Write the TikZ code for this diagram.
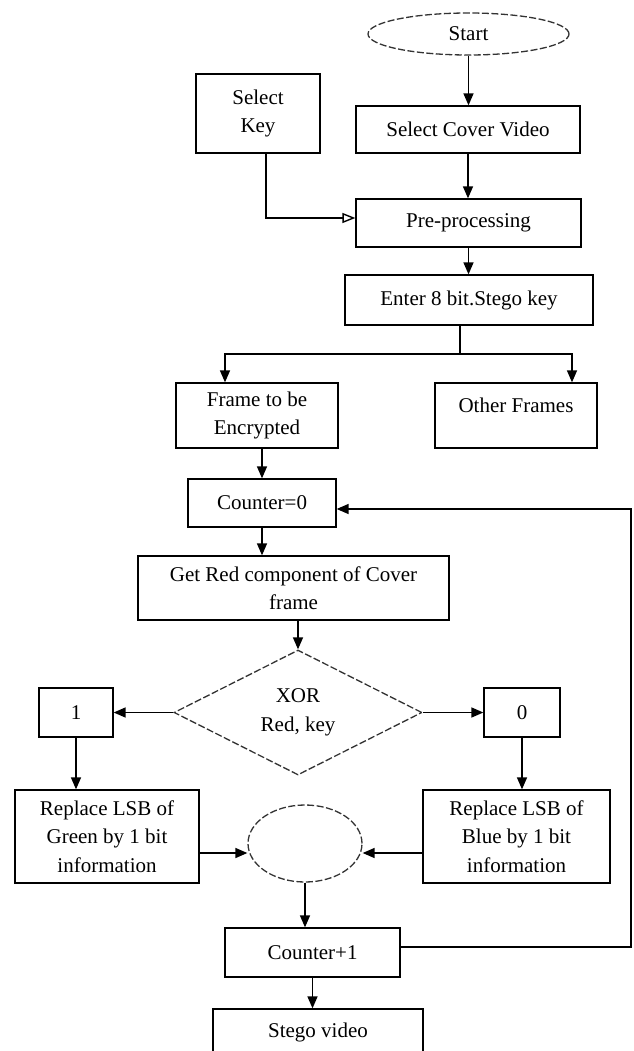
\documentclass[tikz,border=0pt]{standalone}
\usepackage{fontspec}
\setmainfont{Liberation Serif}
\usetikzlibrary{arrows.meta,shapes.geometric}
\begin{document}
\begin{tikzpicture}[x=1pt,y=-1pt,
  every node/.style={font=\fontsize{21}{28.5}\selectfont},
  box/.style={draw, line width=1.3pt, inner sep=0pt, align=center},
  dsh/.style={draw=black!80, line width=1.3pt, dash pattern=on 7pt off 2.5pt, inner sep=0pt, align=center},
  arr/.style={line width=1.5pt, -{Triangle[length=12pt,width=10pt]}},
  oarr/.style={line width=1.4pt, -{Triangle[open,length=13pt,width=10pt]}},
  ln/.style={line width=1.5pt}]
\useasboundingbox (0,0) rectangle (633,1051);
\clip (0,0) rectangle (633,1051);

\node[dsh, ellipse, minimum width=201pt, minimum height=42pt] (start) at (468.5,34) {Start};
\node[box, minimum width=124pt, minimum height=79pt] (key) at (258,113.5) {Select\\Key};
\node[box, minimum width=224pt, minimum height=47pt] (scv) at (468,129.5) {Select Cover Video};
\node[box, minimum width=225pt, minimum height=48pt] (pre) at (468.5,223) {Pre-processing};
\node[box, minimum width=248pt, minimum height=50pt] (enter) at (469,300) {Enter 8 bit.Stego key};
\node[box, minimum width=162pt, minimum height=65pt] (frame) at (257,415.5) {Frame to be\\Encrypted};
\node[draw, line width=1.3pt, inner sep=0pt, minimum width=162pt, minimum height=65pt, text depth=21pt] (other) at (516,415.5) {Other Frames};
\node[box, minimum width=148pt, minimum height=48pt] (c0) at (262,503) {Counter=0};
\node[box, minimum width=311pt, minimum height=64pt] (red) at (293.5,588) {Get Red component of Cover\\frame};
\node[dsh, diamond, aspect=2, minimum width=248pt, minimum height=125pt] (xor) at (298,712.5) {XOR\\Red, key};
\node[box, minimum width=74pt, minimum height=49pt] (one) at (76,712.5) {1};
\node[box, minimum width=76pt, minimum height=49pt] (zero) at (522,712.5) {0};
\node[box, minimum width=184pt, minimum height=93pt] (green) at (107,836.5) {Replace LSB of\\Green by 1 bit\\information};
\node[box, minimum width=187pt, minimum height=93pt] (blue) at (516.5,836.5) {Replace LSB of\\Blue by 1 bit\\information};
\node[dsh, ellipse, minimum width=114pt, minimum height=77pt] (merge) at (305,843.5) {};
\node[box, minimum width=175pt, minimum height=49pt] (cplus) at (312.5,952.5) {Counter+1};
\node[box, minimum width=210pt, minimum height=47pt] (stego) at (318,1032.5) {Stego video};

\coordinate (kc) at (266,218);
\coordinate (br) at (460,354);
\coordinate (fl) at (225,354);
\coordinate (ol) at (572,354);
\coordinate (mj) at (0,853);
\coordinate (fb1) at (631,947);
\coordinate (fb2) at (631,509);

\draw[arr] (start.south) -- (start.south |- scv.north);
\draw[arr] (scv.south) -- (scv.south |- pre.north);
\draw[oarr] (key.south -| kc) -- (kc) -- (pre.west |- kc);
\draw[arr] (pre.south) -- (pre.south |- enter.north);
\draw[arr] (enter.south -| br) -- (br) -| (frame.north -| fl);
\draw[arr] (br) -| (other.north -| ol);
\draw[arr] (c0.north |- frame.south) -- (c0.north);
\draw[arr] (c0.south) -- (c0.south |- red.north);
\draw[arr] (red.south -| xor.north) -- (xor.north);
\draw[arr] (xor.west) -- (one.east);
\draw[arr] (xor.east) -- (zero.west);
\draw[arr] (one.south) -- (one.south |- green.north);
\draw[arr] (zero.south) -- (zero.south |- blue.north);
\draw[arr] (green.east |- mj) -- (merge.west |- mj);
\draw[arr] (blue.west |- mj) -- (merge.east |- mj);
\draw[arr] (merge.south) -- (merge.south |- cplus.north);
\draw[arr] (cplus.south) -- (cplus.south |- stego.north);
\draw[arr] (cplus.east |- fb1) -- (fb1) -- (fb2) -- (c0.east |- fb2);
\end{tikzpicture}
\end{document}
